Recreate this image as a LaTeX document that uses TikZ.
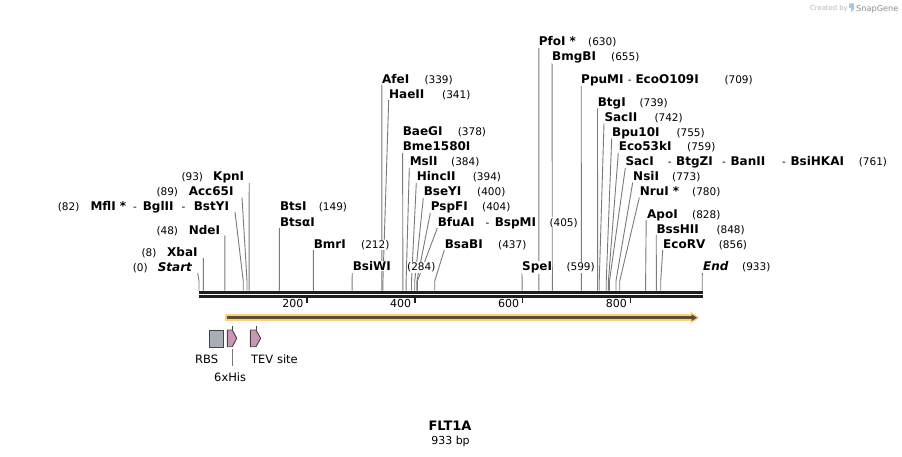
\documentclass[tikz,border=0pt]{standalone}
\usepackage{fontspec}
\setmainfont{DejaVu Sans}
\definecolor{linegray}{HTML}{7A7A7A}
\definecolor{bbone}{HTML}{1E1E1E}
\definecolor{halo}{HTML}{FAD27F}
\definecolor{arrowdark}{HTML}{5E4B32}
\definecolor{rbsgray}{HTML}{A7AEB5}
\definecolor{featpink}{HTML}{C996B6}
\definecolor{featline}{HTML}{444444}
\definecolor{logogray}{HTML}{B5B5B5}
\definecolor{logodark}{HTML}{8E8E8E}
\definecolor{logoblue}{HTML}{9FC8EA}
\newcommand{\lblbf}{\fontsize{12}{14}\selectfont\bfseries}
\newcommand{\lblnum}{\fontsize{10.5}{12}\selectfont}
\newcommand{\nmtxt}[4]{\node[nm] (#1) at (#2,#3) {#4};}
\newcommand{\numtxt}[4]{\node[num] (#1) at (#2,#3) {#4};}
\newcommand{\cutto}[4]{%
  \coordinate (#1t) at (#2,#3);
  \coordinate (#1c) at ({199+0.5394*#4},290.5);
  \draw[enzline] (#1t) -- ({199+0.5394*#4},281) -- (#1c);}
\begin{document}
\begin{tikzpicture}[x=1pt,y=-1pt,
  nm/.style={anchor=base west,font=\lblbf,fill=white,inner xsep=0.3pt,inner ysep=0.6pt},
  num/.style={anchor=base west,font=\lblnum,fill=white,inner xsep=0.3pt,inner ysep=0.6pt},
  enzline/.style={draw=linegray,line width=0.9pt},
  rul/.style={anchor=base east,font=\fontsize{11}{13}\selectfont,inner sep=0pt},
  feat/.style={anchor=base west,font=\fontsize{11.5}{13}\selectfont,inner sep=0pt},
  featshape/.style={draw=featline,line width=0.9pt},
  bb/.style={draw=bbone,line cap=butt}]
\useasboundingbox (0,0) rectangle (902,457);

% ---------- cut-site connectors ----------
\cutto{Start}{197.7}{273}{0}
\cutto{XbaI}{203.3}{258}{8}
\cutto{NdeI}{224.9}{235.5}{48}
\cutto{MflI}{235}{212}{82}
\cutto{Acc}{242}{197.5}{89}
\cutto{KpnI}{249.2}{183}{93}
\cutto{BtsI}{279.4}{228}{149}
\cutto{BmrI}{313.4}{250}{212}
\cutto{BsiWI}{352.2}{273}{284}
\cutto{AfeI}{381.9}{85}{339}
\cutto{HaeII}{388.7}{100}{341}
\cutto{BaeGI}{402.6}{153}{378}
\cutto{MslI}{409.3}{168}{384}
\cutto{HincII}{416.3}{183}{394}
\cutto{BseYI}{423.3}{198}{400}
\cutto{PspFI}{430.3}{213}{404}
\cutto{BfuAI}{437.3}{228}{405}
\cutto{BsaBI}{444.3}{250}{437}
\cutto{SpeI}{522}{273}{599}
\cutto{PfoI}{538.8}{48}{630}
\cutto{BmgBI}{552.1}{63}{655}
\cutto{PpuMI}{581.2}{86}{709}
\cutto{BtgI}{597.5}{108.5}{739}
\cutto{SacII}{604}{123.5}{742}
\cutto{Bpu}{611.7}{138.5}{755}
\cutto{Eco53}{618.3}{153}{759}
\cutto{SacI}{625.3}{168}{761}
\cutto{NsiI}{632.7}{182.5}{773}
\cutto{NruI}{639.3}{197.5}{780}
\cutto{ApoI}{646.2}{220}{828}
\cutto{BssHII}{656.2}{235}{848}
\cutto{EcoRV}{662.7}{250}{856}
\cutto{End}{702.3}{273}{933}

% ---------- backbone ----------
\draw[bb,line width=3pt] (198.7,292.2) -- (702.6,292.2);
\draw[bb,line width=2.7pt] (198.7,296.6) -- (702.6,296.6);

% ---------- ruler ----------
\foreach \v in {200,400,600,800}{
  \pgfmathsetmacro{\tx}{199+0.5394*\v}
  \draw[draw=bbone,line width=1.6pt] (\tx,297.5) -- (\tx,302.6);
  \node[rul] (r\v) at (\tx-3.4,307.6) {\v};
}

% ---------- left labels ----------
\numtxt{pKpn}{181}{181}{(93)} \nmtxt{nKpn}{212.7}{181}{KpnI}
\numtxt{pAcc}{156}{195.7}{(89)} \nmtxt{nAcc}{188.3}{195.7}{Acc65I}
\numtxt{pMfl}{57.3}{210.7}{(82)} \nmtxt{nMfl}{90}{210.7}{MflI *}
\numtxt{dBgl}{132.7}{210.7}{-} \nmtxt{nBgl}{142.3}{210.7}{BglII}
\numtxt{dBst}{181}{210.7}{-} \nmtxt{nBst}{193.3}{210.7}{BstYI}
\numtxt{pNde}{156}{234}{(48)} \nmtxt{nNde}{188.3}{234}{NdeI}
\numtxt{pXba}{141}{256.5}{(8)} \nmtxt{nXba}{166.7}{256.5}{XbaI}
\numtxt{pStart}{132.3}{271.5}{(0)} \nmtxt{nStart}{157.3}{271.5}{\itshape Start}

% ---------- middle labels ----------
\nmtxt{nBts}{279.5}{211}{BtsI} \numtxt{pBts}{318.3}{211}{(149)}
\nmtxt{nBtsa}{279.5}{226}{BtsαI}
\nmtxt{nBmr}{313.3}{248.3}{BmrI} \numtxt{pBmr}{360.7}{248.3}{(212)}
\nmtxt{nBsiW}{352.3}{270.7}{BsiWI} \numtxt{pBsiW}{406.7}{270.7}{(284)}
\nmtxt{nAfe}{381.7}{83.3}{AfeI} \numtxt{pAfe}{424}{83.3}{(339)}
\nmtxt{nHae}{388.7}{98.3}{HaeII} \numtxt{pHae}{441.7}{98.3}{(341)}
\nmtxt{nBae}{402.3}{136}{BaeGI} \numtxt{pBae}{457.3}{136}{(378)}
\nmtxt{nBme}{402.3}{151}{Bme1580I}
\nmtxt{nMsl}{409.3}{166}{MslI} \numtxt{pMsl}{450.7}{166}{(384)}
\nmtxt{nHinc}{416.3}{181}{HincII} \numtxt{pHinc}{472.3}{181}{(394)}
\nmtxt{nBse}{423.3}{196}{BseYI} \numtxt{pBse}{476.7}{196}{(400)}
\nmtxt{nPsp}{430.3}{211}{PspFI} \numtxt{pPsp}{481.7}{211}{(404)}
\nmtxt{nBfu}{437.3}{226}{BfuAI} \numtxt{dBsp}{485}{226}{-}
\nmtxt{nBsp}{494.3}{226}{BspMI} \numtxt{pBfu}{549}{226}{(405)}
\nmtxt{nBsaB}{444.3}{248.3}{BsaBI} \numtxt{pBsaB}{497.7}{248.3}{(437)}
\nmtxt{nSpe}{521.7}{270.7}{SpeI} \numtxt{pSpe}{566}{270.7}{(599)}

% ---------- right labels ----------
\nmtxt{nPfo}{538.3}{45.7}{PfoI *} \numtxt{pPfo}{587.7}{45.7}{(630)}
\nmtxt{nBmg}{551.7}{61}{BmgBI} \numtxt{pBmg}{610.7}{61}{(655)}
\nmtxt{nPpu}{580.7}{83.3}{PpuMI} \numtxt{dEco}{627.3}{83.3}{-}
\nmtxt{nEcoO}{635}{83.3}{EcoO109I} \numtxt{pPpu}{724}{83.3}{(709)}
\nmtxt{nBtg}{597.3}{106.7}{BtgI} \numtxt{pBtg}{639}{106.7}{(739)}
\nmtxt{nSac2}{604}{121.7}{SacII} \numtxt{pSac2}{654}{121.7}{(742)}
\nmtxt{nBpu}{611.7}{136.7}{Bpu10I} \numtxt{pBpu}{676}{136.7}{(755)}
\nmtxt{nEco53}{618.3}{151}{Eco53kI} \numtxt{pEco53}{686.7}{151}{(759)}
\nmtxt{nSac}{625}{166}{SacI} \numtxt{dBtgZ}{667.3}{166}{-}
\nmtxt{nBtgZ}{675.7}{166}{BtgZI} \numtxt{dBan}{721.7}{166}{-}
\nmtxt{nBan}{730}{166}{BanII} \numtxt{dBsiHK}{781.7}{166}{-}
\nmtxt{nBsiHK}{790}{166}{BsiHKAI} \numtxt{pSac}{858.3}{166}{(761)}
\nmtxt{nNsi}{632.7}{180.7}{NsiI} \numtxt{pNsi}{671.7}{180.7}{(773)}
\nmtxt{nNru}{639.3}{195.7}{NruI *} \numtxt{pNru}{691.7}{195.7}{(780)}
\nmtxt{nApo}{646.7}{218.3}{ApoI} \numtxt{pApo}{691.7}{218.3}{(828)}
\nmtxt{nBssH}{656}{233.3}{BssHII} \numtxt{pBssH}{716}{233.3}{(848)}
\nmtxt{nEcoRV}{662.7}{248.3}{EcoRV} \numtxt{pEcoRV}{718.3}{248.3}{(856)}
\nmtxt{nEnd}{702.7}{270.7}{\itshape End} \numtxt{pEnd}{741.7}{270.7}{(933)}

% ---------- ORF arrow ----------
\coordinate (orfA) at (225,317.7);
\coordinate (orfB) at (692,317.7);
\draw[draw=halo,line width=6.5pt] (orfA) -- (orfB);
\fill[halo] (690.5,311.7) -- (699.5,317.7) -- (690.5,323.7) -- cycle;
\draw[draw=arrowdark,line width=2.6pt] (227,317.7) -- (692.5,317.7);
\fill[arrowdark] (691.5,314.3) -- (697,317.7) -- (691.5,321.1) -- cycle;

% ---------- features ----------
\node[featshape,fill=rbsgray,anchor=north west,inner sep=0pt,minimum width=13.4pt,minimum height=16.7pt] (rbs) at (209.3,330) {};
\draw[featshape,fill=featpink] (227.3,330) -- (232.3,330) -- (236.7,338.3) -- (232.3,346.7) -- (227.3,346.7) -- cycle;
\draw[featshape] (232.3,325.5) -- (232.3,330);
\draw[featshape,fill=featpink] (250.3,330) -- (256,330) -- (260.7,338.3) -- (256,346.7) -- (250.3,346.7) -- cycle;
\draw[featshape] (256,325.5) -- (256,330);
\node[feat] (lRBS) at (195,363.6) {RBS};
\node[feat] (lTEV) at (251,363.6) {TEV site};
\node[feat] (lHis) at (214,381) {6xHis};
\coordinate (hisT) at (232.3,348.5);
\coordinate (hisB) at (232.3,366);
\draw[draw=linegray,line width=0.9pt] (hisT) -- (hisB);

% ---------- title ----------
\node[anchor=base,font=\fontsize{13}{15}\selectfont\bfseries,inner sep=0pt] (title) at (450,430.7) {FLT1A};
\node[anchor=base,font=\fontsize{11}{13}\selectfont,inner sep=0pt] (len) at (450.5,444) {933 bp};

% ---------- logo ----------
\node[anchor=base west,font=\fontsize{6.8}{8}\selectfont,text=logogray,inner sep=0pt] (cby) at (810,11) {Created by};
\fill[logoblue] (849.2,3.5) -- (854.2,3.5) -- (854.2,8.8) -- (851.2,12) -- (851.2,8.2) -- (849.2,7.4) -- cycle;
\node[anchor=base west,font=\fontsize{8.2}{9}\selectfont,text=logodark,inner sep=0pt] (sg) at (856,11.5) {SnapGene};
\end{tikzpicture}
\end{document}
